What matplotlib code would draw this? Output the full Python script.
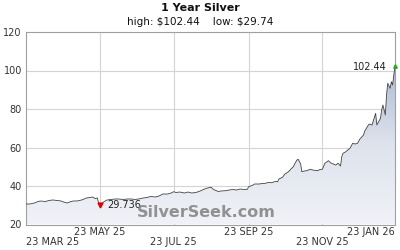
import numpy as np
import matplotlib
matplotlib.use("Agg")
import matplotlib.pyplot as plt
from matplotlib.patches import Polygon
from matplotlib.colors import LinearSegmentedColormap

# ---- data (day offsets from 23 MAR 25, price in $) ----
day_offsets = [0, 3, 7, 10, 12, 16, 19, 22, 26, 29, 31, 34, 36, 39, 42, 46, 48, 50, 53, 55,
               57, 59, 60, 61, 64, 67, 70, 74, 77, 80, 84, 87, 90, 93, 97, 100, 103, 107, 110, 113,
               117, 120, 122, 124, 127, 131, 134, 137, 141, 144, 147, 150, 153, 155, 159, 161, 165, 168, 171, 174,
               177, 180, 183, 184, 187, 189, 193, 195, 198, 200, 203, 206, 208, 209, 212, 214, 217, 219, 221, 222,
               224, 225, 227, 228, 230, 232, 235, 237, 241, 243, 245, 247, 250, 252, 254, 256, 258, 260, 261, 262,
               264, 266, 268, 270, 272, 274, 276, 279, 280, 283, 284, 286, 289, 290, 293, 294, 295, 297, 298, 299,
               301, 302, 303, 304, 305]
prices = [30.65, 30.65, 31.17, 31.95, 32.21, 31.95, 32.47, 32.73, 32.47, 32.21, 31.69, 31.17, 31.69, 32.21, 32.21, 32.73, 33.25, 33.77, 34.03, 34.29,
          33.51, 33.77, 31.17, 29.74, 31.69, 32.73, 32.99, 33.25, 33.25, 32.99, 33.25, 33.25, 32.99, 33.25, 33.77, 34.03, 34.55, 34.29, 34.81, 35.84,
          35.84, 36.36, 37.04, 36.62, 36.88, 36.36, 36.88, 36.36, 36.73, 37.40, 38.29, 38.96, 39.32, 38.18, 37.14, 37.40, 37.56, 37.92, 38.18, 37.92,
          38.44, 38.18, 38.29, 39.64, 40.26, 41.04, 41.04, 41.30, 41.40, 41.82, 41.71, 42.34, 42.23, 43.64, 44.52, 46.23, 47.43, 48.83, 50.03, 51.43,
          53.51, 53.87, 51.43, 47.43, 47.79, 47.95, 48.68, 48.31, 47.95, 48.57, 48.68, 51.79, 53.14, 51.95, 51.43, 50.91, 51.79, 50.39, 55.22, 56.99,
          57.66, 58.70, 59.74, 62.18, 61.82, 62.18, 64.42, 66.49, 68.57, 71.69, 72.21, 71.69, 77.77, 71.69, 75.17, 79.48, 82.08, 76.88, 87.27, 93.35,
          90.75, 94.18, 92.47, 97.66, 102.44]
tick_days = [0, 61, 122, 184, 245, 305]
tick_labels = ["23 MAR 25", "23 MAY 25", "23 JUL 25", "23 SEP 25", "23 NOV 25", "23 JAN 26"]
y_ticks = [20, 40, 60, 80, 100, 120]
high_val, low_val, low_label = 102.44, 29.74, "29.736"
title = "1 Year Silver"
subtitle = "high: \\$102.44    low: \\$29.74"

x = np.array(day_offsets, dtype=float)
y = np.array(prices)

fig = plt.figure(figsize=(4, 2.5), dpi=100)
ax = fig.add_axes([0.065, 0.102, 0.9225, 0.770])
ax.set_xlim(0, 305)
ax.set_ylim(20, 120)

# gradient fill under line
grad = np.linspace(0, 1, 256).reshape(-1, 1)
cmap = LinearSegmentedColormap.from_list("g", ["#f0f2f7", "#dde2ec", "#a9b8d2"])
im = ax.imshow(grad, extent=[0, 305, 20, 105], origin="lower", aspect="auto", cmap=cmap, zorder=1)
poly = Polygon(np.column_stack([np.r_[x[0], x, x[-1]], np.r_[20, y, 20]]), closed=True,
               transform=ax.transData, facecolor="none", edgecolor="none")
ax.add_patch(poly)
im.set_clip_path(poly)

ax.plot(x, y, color="#444444", lw=0.6, zorder=3)

# grid
ax.set_yticks(y_ticks)
ax.set_xticks(tick_days[1:-1])
ax.grid(True, color="#d4d4d4", lw=0.8, zorder=0)
ax.set_axisbelow(True)
for s in ax.spines.values():
    s.set_color("#a0a0a0")
    s.set_linewidth(0.8)
ax.tick_params(axis="both", length=0, labelsize=7, colors="#333333")
ax.tick_params(axis="y", pad=3)
ax.set_xticklabels([])

# x labels on alternating rows
for i, (d, lab) in enumerate(zip(tick_days, tick_labels)):
    row_y = -0.012 if i % 2 == 1 else -0.066
    ha = "center"
    if i == 0:
        ha = "left"
    elif i == len(tick_days) - 1:
        ha = "right"
    ax.text(d, row_y, lab, transform=ax.get_xaxis_transform(), ha=ha, va="top",
            fontsize=7, color="#333333")

# markers / annotations
i_low = int(np.argmin(y))
ax.plot(x[i_low], y[i_low] + 0.6, marker="v", color="#dd0000", ms=3.5, zorder=4)
ax.text(x[i_low] + 6, y[i_low] + 0.2, low_label, fontsize=7, color="#222222", va="center", ha="left", zorder=4)
i_high = int(np.argmax(y))
ax.plot(x[i_high], y[i_high], marker="^", color="#22aa22", ms=2.5, zorder=4, clip_on=False)
ax.text(x[i_high] - 6.5, y[i_high] - 0.5, f"{high_val:.2f}", fontsize=7, color="#222222", va="center", ha="right", zorder=4)

# watermark
ax.text(0.488, 0.06, "SilverSeek.com", transform=ax.transAxes, fontsize=11.5, fontweight="bold",
        color="#7a7a7a", alpha=0.8, ha="center", va="center", zorder=5)

fig.text(0.5, 0.968, title, ha="center", va="center", fontsize=8, fontweight="bold", color="#111111")
fig.text(0.5, 0.912, subtitle, ha="center", va="center", fontsize=7.5, color="#111111")

fig.savefig("out.png", dpi=100)
